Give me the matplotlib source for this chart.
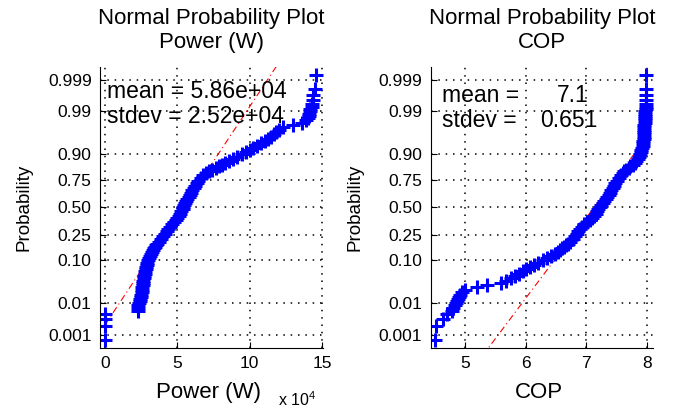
from statistics import NormalDist
import numpy as np
import matplotlib
matplotlib.use('Agg')
import matplotlib.pyplot as plt

plt.rcParams['font.family'] = ['Liberation Sans', 'DejaVu Sans']
plt.rcParams['mathtext.default'] = 'regular'

# plotting positions (probability), shared by both panels
probs = [0.00067, 0.002, 0.0033, 0.0047, 0.006, 0.0073, 0.0087, 0.010, 0.0115, 0.013,
         0.015, 0.017, 0.020, 0.023, 0.026, 0.030, 0.034, 0.038, 0.043, 0.048,
         0.054, 0.060, 0.067, 0.074, 0.082, 0.090, 0.10, 0.11, 0.12, 0.13,
         0.14, 0.15, 0.16, 0.17, 0.18, 0.19, 0.20, 0.22, 0.24, 0.26,
         0.28, 0.30, 0.32, 0.34, 0.36, 0.38, 0.40, 0.42, 0.44, 0.46,
         0.48, 0.50, 0.52, 0.54, 0.56, 0.58, 0.60, 0.62, 0.64, 0.66,
         0.68, 0.70, 0.72, 0.74, 0.76, 0.78, 0.80, 0.81, 0.82, 0.83,
         0.84, 0.85, 0.86, 0.87, 0.88, 0.89, 0.90, 0.91, 0.918, 0.926,
         0.933, 0.94, 0.946, 0.952, 0.957, 0.962, 0.966, 0.97, 0.974, 0.977,
         0.98, 0.983, 0.985, 0.987, 0.9885, 0.99, 0.9913, 0.9927, 0.994, 0.9953,
         0.9967, 0.998, 0.99933]

power = [0, 0, 0, 0, 22800, 23000, 23100, 23500, 24000, 24300,
         24600, 25000, 25300, 25600, 25800, 26000, 26200, 26500, 26800, 27100,
         27500, 27800, 28100, 28500, 28900, 29300, 29800, 30300, 31000, 31700,
         32500, 33300, 34000, 34700, 35500, 36200, 37000, 38500, 39800, 41200,
         42500, 43800, 45200, 46500, 47800, 49000, 50000, 51000, 52000, 52800,
         53600, 54200, 54700, 55200, 56000, 57000, 57800, 58800, 59500, 60200,
         61200, 62200, 63300, 64600, 66200, 67800, 70000, 72000, 74000, 77000,
         79000, 81000, 83000, 85500, 88500, 91500, 95000, 97500, 100000, 102500,
         105000, 108000, 110500, 113000, 115000, 117000, 118500, 120000, 123000, 130000,
         136000, 139000, 140000, 141000, 141000, 142000, 142000, 143000, 143000, 144000,
         144000, 145500, 146000]

cop = [4.50, 4.52, 4.64, 4.70, 4.79, 4.81, 4.83, 4.85, 4.86, 4.88,
       4.90, 4.92, 4.95, 5.00, 5.20, 5.37, 5.60, 5.68, 5.76, 5.82,
       5.89, 5.95, 6.01, 6.07, 6.14, 6.21, 6.28, 6.35, 6.42, 6.49,
       6.53, 6.57, 6.60, 6.63, 6.67, 6.70, 6.73, 6.78, 6.82, 6.85,
       6.87, 6.90, 6.93, 6.97, 7.01, 7.06, 7.10, 7.13, 7.16, 7.18,
       7.20, 7.22, 7.25, 7.28, 7.30, 7.32, 7.35, 7.37, 7.39, 7.41,
       7.44, 7.46, 7.48, 7.51, 7.54, 7.57, 7.61, 7.63, 7.66, 7.70,
       7.73, 7.77, 7.80, 7.83, 7.85, 7.87, 7.89, 7.90, 7.91, 7.92,
       7.93, 7.94, 7.94, 7.95, 7.95, 7.95, 7.96, 7.96, 7.96, 7.96,
       7.97, 7.97, 7.97, 7.97, 7.97, 7.97, 7.98, 7.98, 7.98, 7.98,
       7.98, 7.98, 7.99]

# first and third quartile used for the reference line
power_quart = [41100, 66600]
cop_quart = [6.785, 7.475]

prob_ticks = [0.001, 0.01, 0.10, 0.25, 0.50, 0.75, 0.90, 0.99, 0.999]
prob_labels = ['0.001', '0.01', '0.10', '0.25', '0.50', '0.75', '0.90', '0.99', '0.999']

nd = NormalDist()

def to_z(p):
    p = np.clip(np.asarray(p, dtype=float), 1e-12, 1 - 1e-12)
    return np.vectorize(nd.inv_cdf, otypes=[float])(p)

def from_z(z):
    return np.vectorize(nd.cdf, otypes=[float])(np.asarray(z, dtype=float))

def normplot(ax, vals, quart, xlim, xticks, fmt, title, xlabel):
    q1, q3 = quart
    mu = (q1 + q3) / 2
    sig = (q3 - q1) / (2 * nd.inv_cdf(0.75))
    xl = [min(vals), max(vals)]
    ax.set_yscale('function', functions=(to_z, from_z))
    ax.plot(xl, [nd.cdf((x - mu) / sig) for x in xl], color='r', lw=0.8, dashes=(6, 3, 1, 3))
    ax.plot(vals, probs, '+', color='b', ms=10, mew=2.2)
    ax.set_ylim(0.25 / 750, 1 - 0.25 / 750)
    ax.set_xlim(*xlim)
    ax.set_yticks(prob_ticks)
    ax.set_yticklabels(prob_labels)
    ax.set_xticks(xticks)
    ax.set_xticklabels([fmt(t) for t in xticks])
    ax.minorticks_off()
    ax.grid(True, color='k', lw=1.1, linestyle=(0, (1, 3.8)))
    ax.spines['top'].set_visible(False)
    ax.spines['right'].set_visible(False)
    ax.tick_params(direction='in', length=4, labelsize=12.5, pad=6)
    ax.text(0.5, 1.153, 'Normal Probability Plot', transform=ax.transAxes,
            ha='center', va='baseline', fontsize=16)
    ax.text(0.5, 1.068, title, transform=ax.transAxes, ha='center', va='baseline', fontsize=16)
    ax.text(-0.34, 0.5, 'Probability', transform=ax.transAxes, rotation=90,
            ha='center', va='center', fontsize=13.5)
    ax.text(0.488, -0.179, xlabel, transform=ax.transAxes, ha='center', va='baseline', fontsize=16)

fig = plt.figure(figsize=(6.79, 4.12), dpi=100)
ax1 = fig.add_axes([0.1473, 0.1561, 0.328, 0.6813])
ax2 = fig.add_axes([0.6343, 0.1561, 0.3278, 0.6813])

normplot(ax1, power, power_quart, (-3460, 150500), [0, 50000, 100000, 150000],
         lambda t: '%g' % (t / 1e4), 'Power (W)', 'Power (W)')
ax1.text(0.80, -0.208, r'x 10$^{4}$', transform=ax1.transAxes, ha='left', va='baseline', fontsize=11.5)
ax1.text(0.032, 0.888, 'mean = 5.86e+04', transform=ax1.transAxes, va='baseline', fontsize=16.5)
ax1.text(0.032, 0.799, 'stdev = 2.52e+04', transform=ax1.transAxes, va='baseline', fontsize=16.5)

normplot(ax2, cop, cop_quart, (4.434, 8.107), [5, 6, 7, 8],
         lambda t: '%g' % t, 'COP', 'COP')
ax2.text(0.05, 0.877, 'mean =', transform=ax2.transAxes, va='baseline', fontsize=16.5)
ax2.text(0.567, 0.877, '7.1', transform=ax2.transAxes, va='baseline', fontsize=16.5)
ax2.text(0.05, 0.786, 'stdev =', transform=ax2.transAxes, va='baseline', fontsize=16.5)
ax2.text(0.492, 0.786, '0.651', transform=ax2.transAxes, va='baseline', fontsize=16.5)

plt.savefig('out.png')
